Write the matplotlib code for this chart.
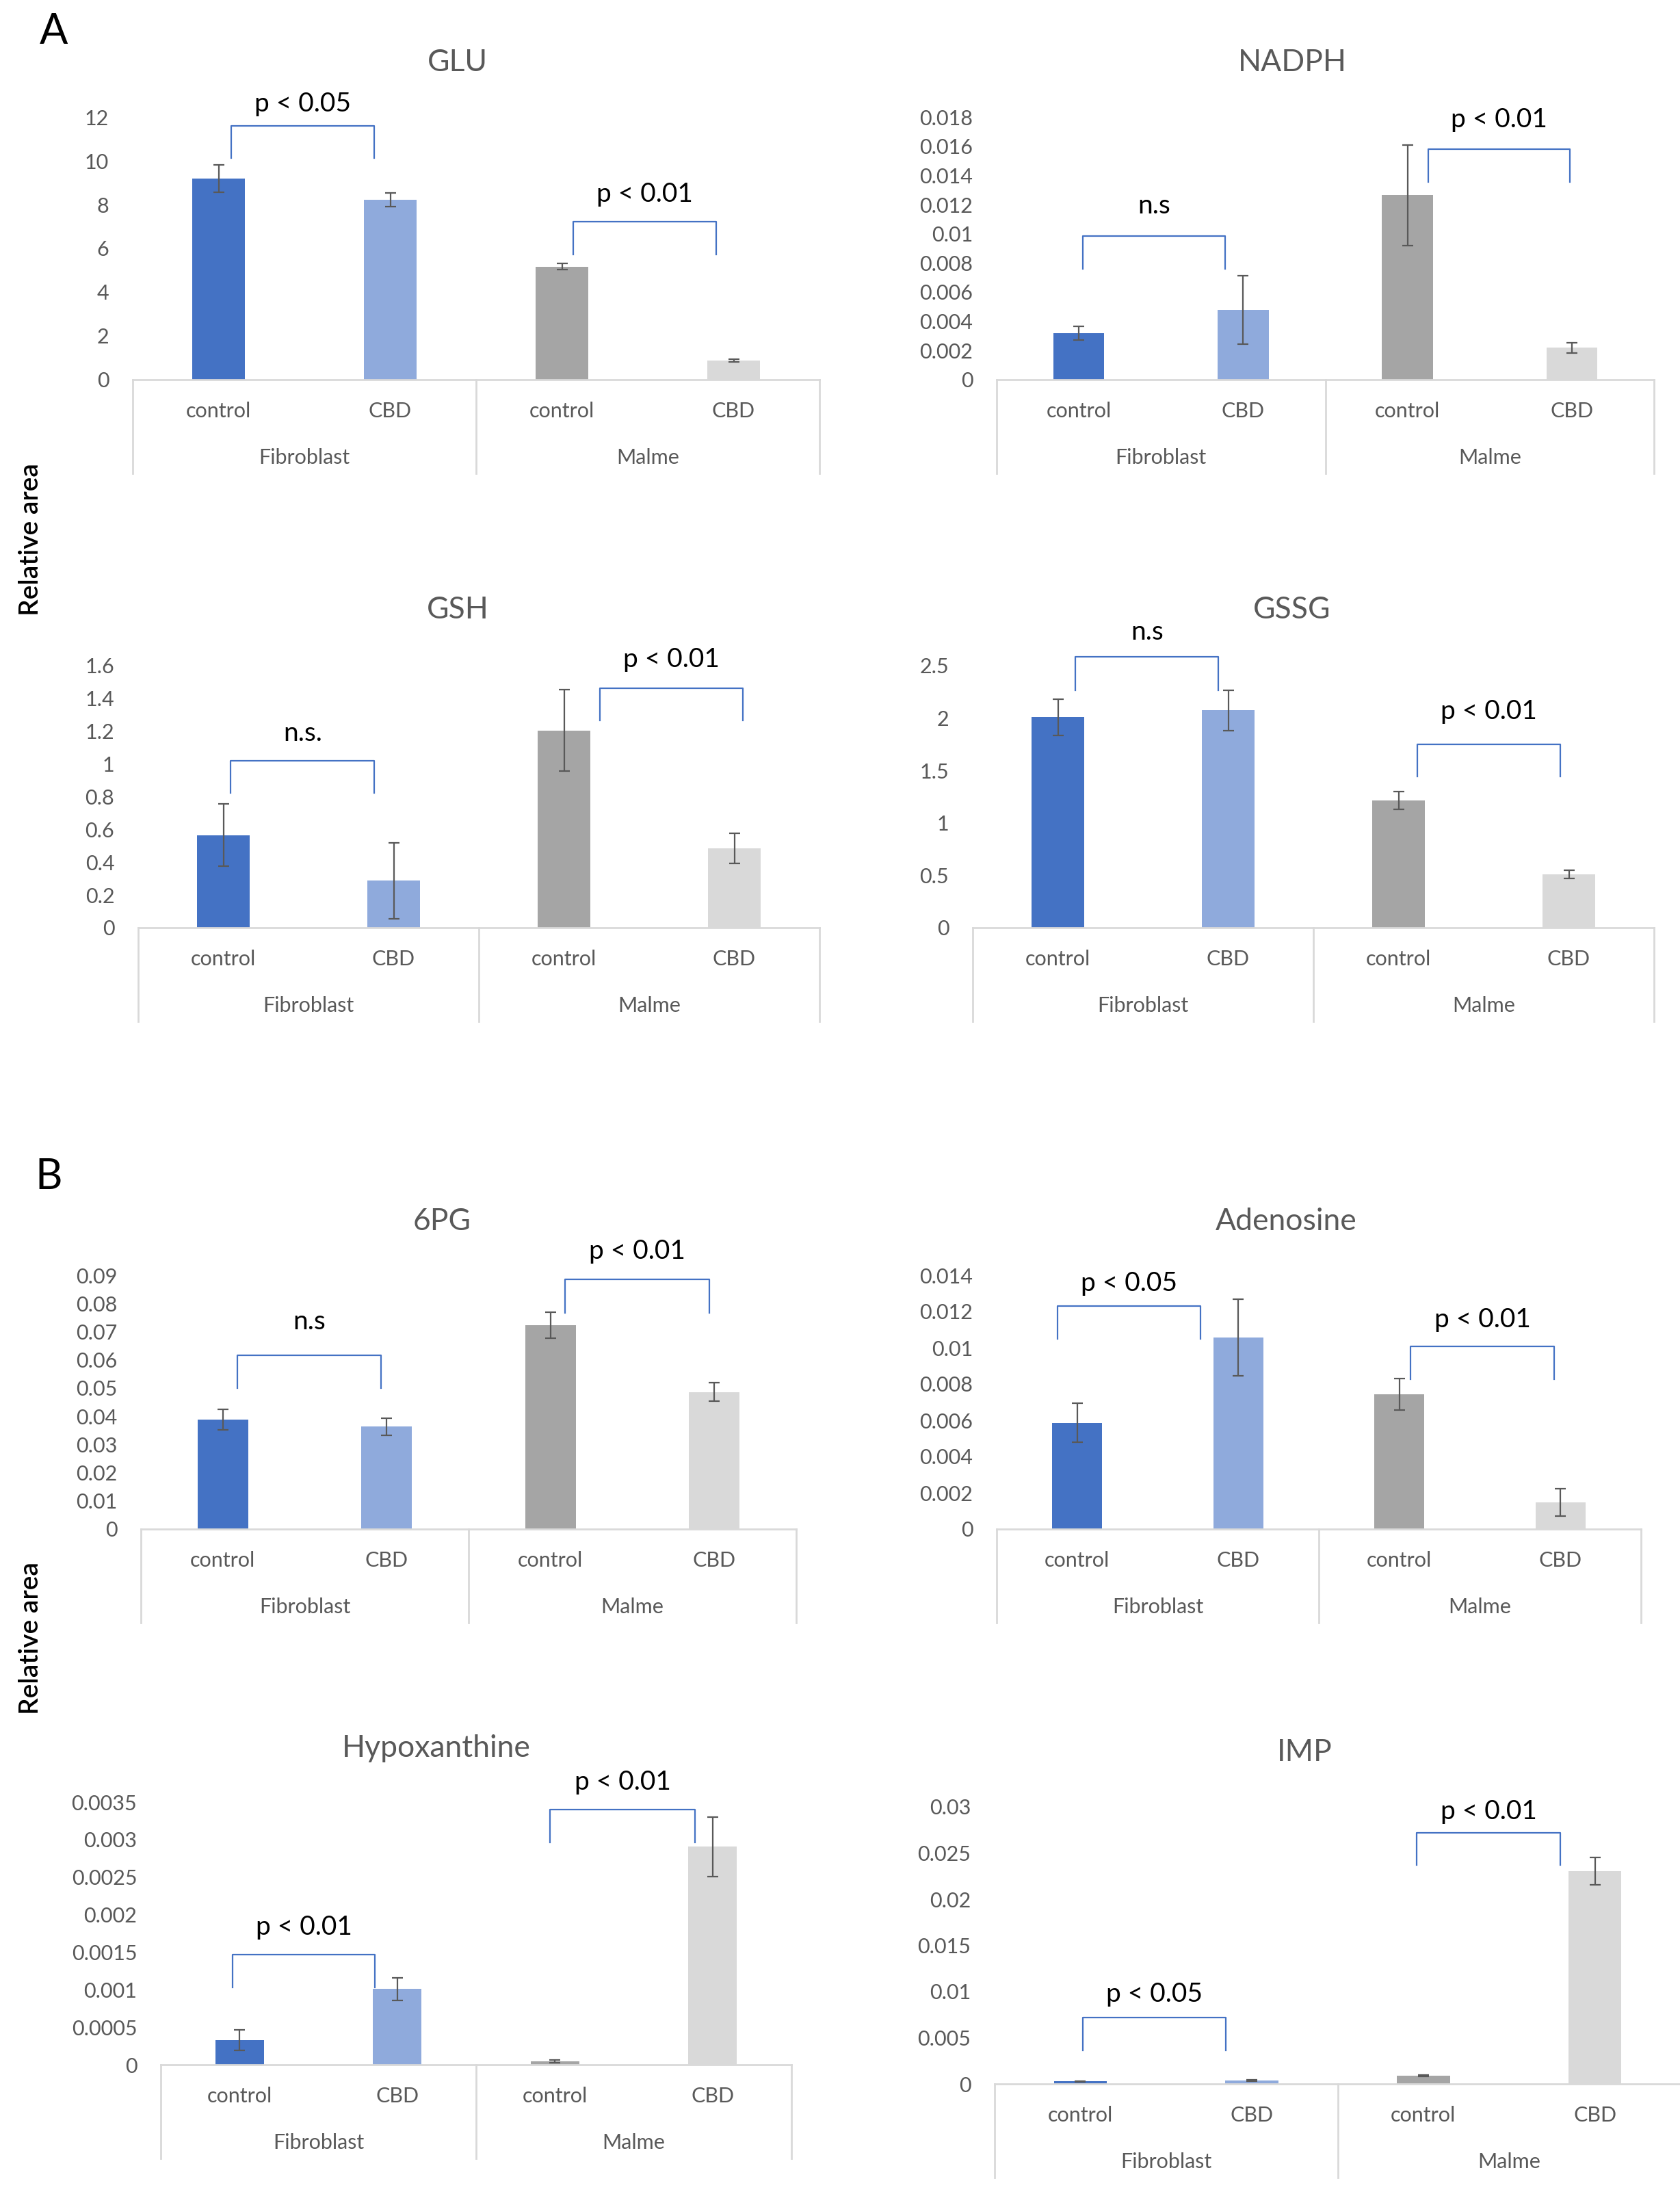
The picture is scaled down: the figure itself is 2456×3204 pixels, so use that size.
import numpy as np
import matplotlib
matplotlib.use("Agg")
import matplotlib.pyplot as plt

plt.rcParams['font.family'] = ['Lato', 'DejaVu Sans']

# Tamaño de la figura en pixeles
W, H = 2456, 3204

# Datos
categorias = ['control', 'CBD', 'control', 'CBD']
grupos = ['Fibroblast', 'Malme']
colores = ['#4472C4', '#8FAADC', '#A5A5A5', '#D9D9D9']

glu_media = [9.18, 8.23, 5.16, 0.865]
glu_err = [0.63, 0.31, 0.14, 0.06]

nadph_media = [0.0032, 0.00477, 0.01264, 0.00218]
nadph_err = [0.00047, 0.00234, 0.00346, 0.00037]

gsh_media = [0.566, 0.287, 1.205, 0.483]
gsh_err = [0.191, 0.233, 0.247, 0.092]

gssg_media = [2.01, 2.073, 1.215, 0.508]
gssg_err = [0.173, 0.193, 0.084, 0.039]

pg6_media = [0.0388, 0.0363, 0.0723, 0.0486]
pg6_err = [0.00365, 0.0031, 0.0045, 0.0032]

adenosina_media = [0.00586, 0.01057, 0.00743, 0.00148]
adenosina_err = [0.00108, 0.0021, 0.00086, 0.00075]

hipox_media = [0.000326, 0.001009, 0.0000435, 0.002904]
hipox_err = [0.000137, 0.00015, 0.000018, 0.000394]

imp_media = [0.00028, 0.00035, 0.00088, 0.02304]
imp_err = [0.00004, 0.00008, 0.0001, 0.00147]

# Etiquetas de significancia (Fibroblast, Malme)
glu_sig = ['p < 0.05', 'p < 0.01']
nadph_sig = ['n.s', 'p < 0.01']
gsh_sig = ['n.s.', 'p < 0.01']
gssg_sig = ['n.s', 'p < 0.01']
pg6_sig = ['n.s', 'p < 0.01']
adenosina_sig = ['p < 0.05', 'p < 0.01']
hipox_sig = ['p < 0.01', 'p < 0.01']
imp_sig = ['p < 0.05', 'p < 0.01']

# Layout de cada panel: titulo, datos, ejes en pixeles (izq, der, y cero, y max),
# ymax, n de divisiones, posicion del titulo, corchetes (x0, x1, arriba, abajo, y texto)
paneles = [
    dict(titulo='GLU', media=glu_media, err=glu_err, sig=glu_sig,
         caja=(194, 1198, 555, 171), ymax=12, ndiv=6, tpos=(669, 92),
         corch=[(0.075, 0.906, 11.6, 10.13, 12.58), (2.066, 2.9, 7.22, 5.73, 8.47)]),
    dict(titulo='NADPH', media=nadph_media, err=nadph_err, sig=nadph_sig,
         caja=(1457, 2418, 555, 171), ymax=0.018, ndiv=9, tpos=(1889, 92),
         corch=[(0.026, 0.892, 0.00983, 0.00758, 0.0119), (2.125, 2.99, 0.0158, 0.01356, 0.0178)]),
    dict(titulo='GSH', media=gsh_media, err=gsh_err, sig=gsh_sig,
         caja=(202, 1198, 1356, 973), ymax=1.6, ndiv=8, tpos=(669, 892),
         corch=[(0.044, 0.886, 1.02, 0.824, 1.186), (2.21, 3.05, 1.463, 1.267, 1.638)]),
    dict(titulo='GSSG', media=gssg_media, err=gssg_err, sig=gssg_sig,
         caja=(1422, 2418, 1356, 973), ymax=2.5, ndiv=5, tpos=(1889, 892),
         corch=[(0.104, 0.943, 2.584, 2.268, 2.82), (2.11, 2.95, 1.748, 1.441, 2.064)]),
    dict(titulo='6PG', media=pg6_media, err=pg6_err, sig=pg6_sig,
         caja=(206, 1164, 2235, 1864), ymax=0.09, ndiv=9, tpos=(646, 1786),
         corch=[(0.089, 0.967, 0.0615, 0.0499, 0.0736), (2.09, 2.97, 0.0886, 0.0766, 0.0985)]),
    dict(titulo='Adenosine', media=adenosina_media, err=adenosina_err, sig=adenosina_sig,
         caja=(1457, 2399, 2235, 1864), ymax=0.014, ndiv=7, tpos=(1880, 1786),
         corch=[(-0.12, 0.766, 0.0123, 0.01049, 0.01353), (2.07, 2.96, 0.01007, 0.00828, 0.01153)]),
    dict(titulo='Hypoxanthine', media=hipox_media, err=hipox_err, sig=hipox_sig,
         caja=(235, 1157, 3018, 2634), ymax=0.0035, ndiv=7, tpos=(638, 2555),
         corch=[(-0.044, 0.86, 0.001465, 0.00103, 0.001835), (1.97, 2.89, 0.003396, 0.002965, 0.00376)]),
    dict(titulo='IMP', media=imp_media, err=imp_err, sig=imp_sig,
         caja=(1454, 2457, 3046, 2641), ymax=0.03, ndiv=6, tpos=(1907, 2561),
         corch=[(0.016, 0.847, 0.0072, 0.00364, 0.0097), (1.96, 2.8, 0.0272, 0.0237, 0.0295)]),
]

GRIS_TXT = '#595959'
GRIS_LINEA = '#D9D9D9'
AZUL = '#4472C4'


def fx(x):
    return x / W


def fy(y):
    return 1 - y / H


def fmt_general(v):
    # Formato "General" de Excel
    return '{:g}'.format(round(v, 6))


def dibujar_panel(fig, p):
    izq, der, y0, ytop = p['caja']
    alto = y0 - ytop
    ax = fig.add_axes([fx(izq), fy(y0), fx(der - izq), alto / H])
    x = np.arange(len(categorias))
    ax.bar(x, p['media'], width=0.31, color=colores, yerr=p['err'],
           error_kw=dict(ecolor=GRIS_TXT, elinewidth=1.6, capsize=6, capthick=1.6), zorder=2)
    ax.set_xlim(-0.5, 3.5)
    ax.set_ylim(0, p['ymax'])
    ticks = np.linspace(0, p['ymax'], p['ndiv'] + 1)
    ax.set_yticks(ticks)
    ax.set_yticklabels([fmt_general(t) for t in ticks])
    ax.tick_params(axis='y', length=0, pad=25, labelsize=22, labelcolor=GRIS_TXT)
    ax.set_xticks([])
    for s in ax.spines.values():
        s.set_visible(False)

    # Caja del eje de categorias (dos niveles)
    trans = ax.get_xaxis_transform()
    fondo = -137 / alto
    ax.plot([-0.5, 3.5], [0, 0], color=GRIS_LINEA, lw=2, transform=trans, clip_on=False)
    for xb in [-0.5, 1.5, 3.5]:
        ax.plot([xb, xb], [0, fondo], color=GRIS_LINEA, lw=2, transform=trans, clip_on=False)
    for i, c in enumerate(categorias):
        ax.text(i, -46 / alto, c, transform=trans, ha='center', va='center',
                fontsize=22, color=GRIS_TXT)
    for j, g in enumerate(grupos):
        ax.text(0.5 + 2 * j, -114 / alto, g, transform=trans, ha='center', va='center',
                fontsize=22, color=GRIS_TXT)

    # Corchetes de significancia
    for (x0, x1, top, bot, ytxt), txt in zip(p['corch'], p['sig']):
        ax.plot([x0, x0, x1, x1], [bot, top, top, bot], color=AZUL, lw=1.6,
                solid_joinstyle='round', clip_on=False, zorder=3)
        ax.text((x0 + x1) / 2, ytxt, txt, ha='center', va='center', fontsize=28,
                color='black', clip_on=False)

    fig.text(fx(p['tpos'][0]), fy(p['tpos'][1]), p['titulo'], ha='center', va='center',
             fontsize=32, color=GRIS_TXT)
    return ax


fig = plt.figure(figsize=(W / 100, H / 100), dpi=100)
fig.patch.set_facecolor('white')

for p in paneles:
    dibujar_panel(fig, p)

# Letras de panel y etiqueta del eje Y
fig.text(fx(79), fy(46), 'A', ha='center', va='center', fontsize=44, color='black')
fig.text(fx(71), fy(1721), 'B', ha='center', va='center', fontsize=44, color='black')
for yc in [788, 2395]:
    fig.text(fx(45), fy(yc), 'Relative area', rotation=90, ha='center', va='center',
             fontsize=28, color='black', fontweight='semibold')

fig.savefig('out.png', dpi=100, facecolor='white')
